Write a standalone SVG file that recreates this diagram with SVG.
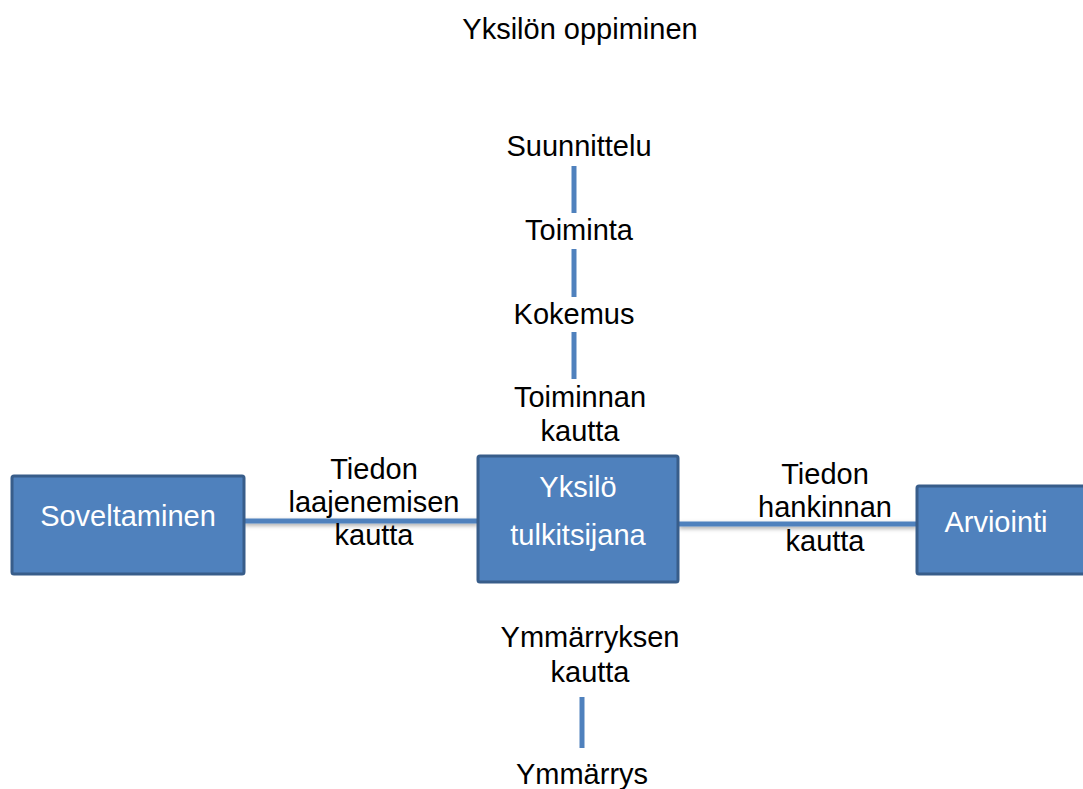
<svg xmlns="http://www.w3.org/2000/svg" width="1083" height="789" viewBox="0 0 1083 789">
<defs>
<filter id="sh" filterUnits="userSpaceOnUse" x="0" y="0" width="1083" height="789">
<feDropShadow dx="0" dy="2" stdDeviation="2" flood-color="#000" flood-opacity="0.35"/>
</filter>
</defs>
<style>
.t{font-family:"Liberation Sans",Arial,sans-serif;font-size:29px;fill:#000;text-anchor:middle}
.w{font-family:"Liberation Sans",Arial,sans-serif;font-size:29px;fill:#fff;text-anchor:middle}
.box{fill:#4f81bd;stroke:#385d8a;stroke-width:3}
.ln{stroke:#4f81bd;stroke-width:5;fill:none}
.hl{fill:#4f81bd}
</style>
<rect width="1083" height="789" fill="#fff"/>
<text class="t" x="580" y="39">Yksilön oppiminen</text>
<g id="connectors">
<rect class="hl" x="244" y="518.5" width="234" height="5" filter="url(#sh)"/>
<rect class="hl" x="679" y="521.5" width="238" height="5" filter="url(#sh)"/>
<line class="ln" x1="574" y1="166" x2="574" y2="213"/>
<line class="ln" x1="574" y1="249" x2="574" y2="297"/>
<line class="ln" x1="574" y1="332" x2="574" y2="379"/>
<line class="ln" x1="582" y1="697" x2="582" y2="748"/>
</g>
<g id="suunnittelu"><text class="t" x="579" y="156">Suunnittelu</text></g>
<g id="toiminta"><text class="t" x="579" y="240">Toiminta</text></g>
<g id="kokemus"><text class="t" x="574" y="324">Kokemus</text></g>
<g id="toiminnan"><text class="t" x="580" y="407">Toiminnan</text><text class="t" x="580" y="441">kautta</text></g>
<g id="tiedon-laajenemisen"><text class="t" x="374" y="479">Tiedon</text><text class="t" x="374" y="512">laajenemisen</text><text class="t" x="374" y="545">kautta</text></g>
<g id="tiedon-hankinnan"><text class="t" x="825" y="484">Tiedon</text><text class="t" x="825" y="517">hankinnan</text><text class="t" x="825" y="551">kautta</text></g>
<g id="soveltaminen"><rect class="box" x="12" y="476" width="232" height="98" rx="2"/><text class="w" x="128" y="526">Soveltaminen</text></g>
<g id="yksilo"><rect class="box" x="478" y="456" width="200" height="126" rx="2"/><text class="w" x="578" y="497">Yksilö</text><text class="w" x="578" y="545">tulkitsijana</text></g>
<g id="arviointi"><rect class="box" x="917" y="486" width="172" height="88" rx="2"/><text class="w" x="996" y="532">Arviointi</text></g>
<g id="ymmarryksen"><text class="t" x="590" y="647">Ymmärryksen</text><text class="t" x="590" y="682">kautta</text></g>
<g id="ymmarrys"><text class="t" x="582" y="784">Ymmärrys</text></g>
</svg>
